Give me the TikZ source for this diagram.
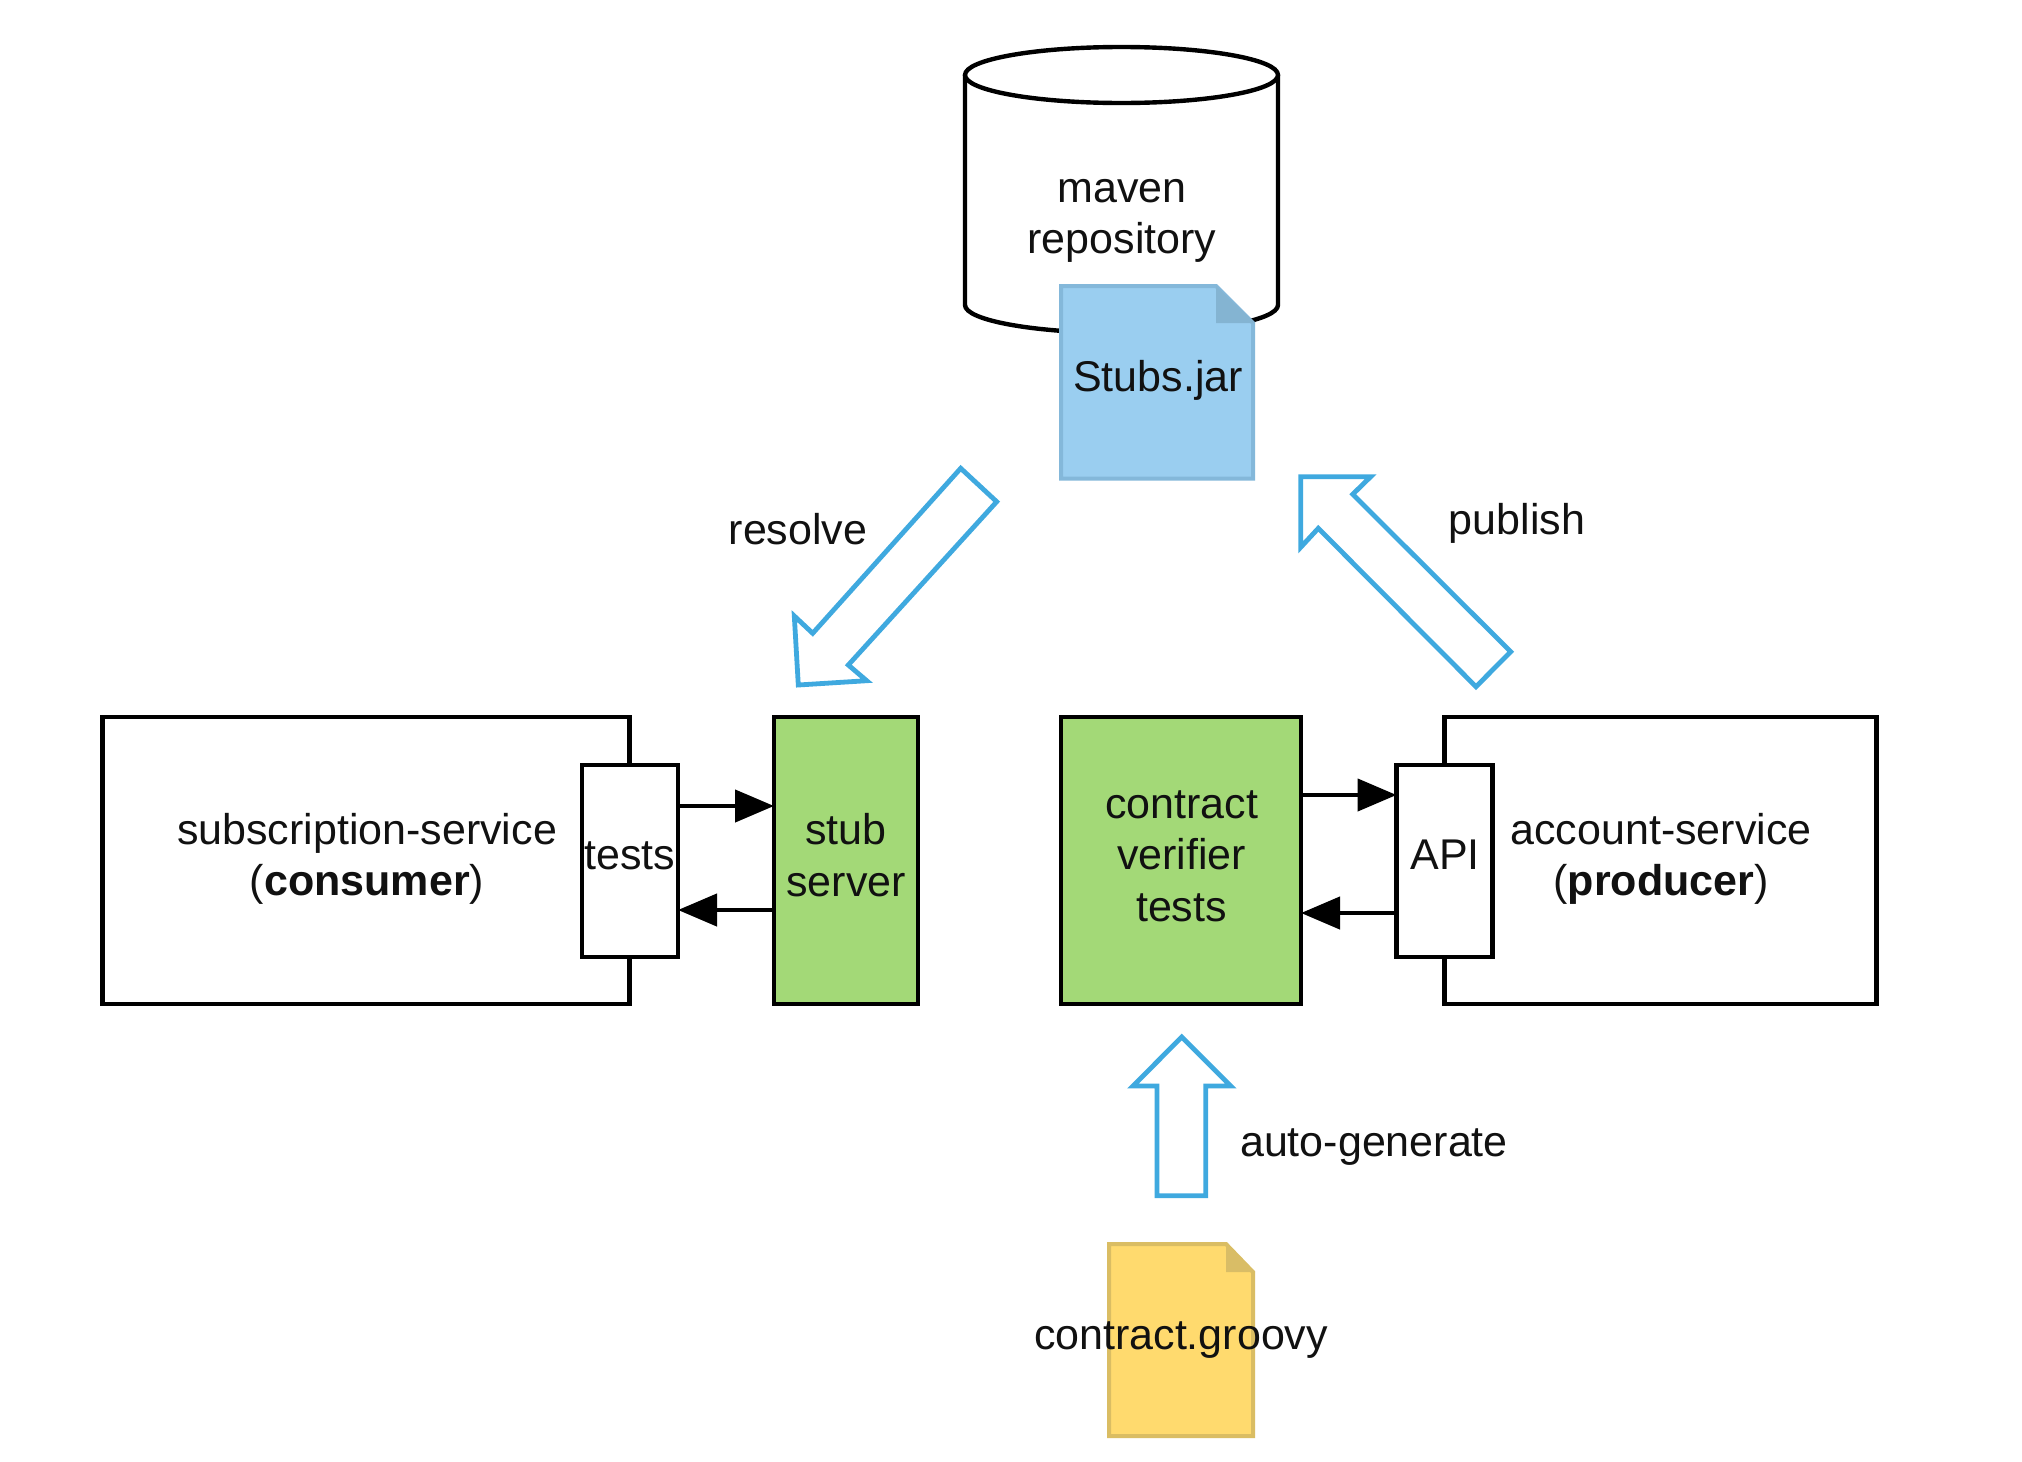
\documentclass[tikz,border=0pt]{standalone}
\usepackage{fontspec}
\setmainfont{Liberation Sans}
\usetikzlibrary{arrows.meta}
\definecolor{ink}{HTML}{111111}
\definecolor{bluearrow}{HTML}{3FA9DF}
\definecolor{greenbox}{HTML}{A3D977}
\definecolor{stubfill}{HTML}{9ACEF0}
\definecolor{stubline}{HTML}{84B8DA}
\definecolor{stubfold}{HTML}{84B4D2}
\definecolor{yelfill}{HTML}{FFDA6E}
\definecolor{yelline}{HTML}{DABD63}
\definecolor{yelfold}{HTML}{D9BD66}
\tikzset{
  box/.style={draw=black,line width=4.4pt,fill=white,inner sep=0pt,outer sep=0pt,line join=miter},
  greenb/.style={box,fill=greenbox},
  lbl/.style={font=\fontsize{43}{51.6}\selectfont,text=ink,align=center,inner sep=0pt,outer sep=0pt},
  baselbl/.style={lbl,anchor=base},
  hollow/.style={draw=bluearrow,line width=4.8pt,fill=white,line join=miter,miter limit=10},
  flow/.style={draw=black,line width=4.4pt,-{Triangle[length=39pt,width=32pt]}},
}
\begin{document}
\begin{tikzpicture}[x=1pt,y=-1pt]
\useasboundingbox (0,0) rectangle (2022,1462);
\fill[white] (0,0) rectangle (2022,1462);

% cylinder
\draw[line width=4.4pt,fill=white,line join=round] (965,75) -- (965,305)
  arc[start angle=180,end angle=0,x radius=156.5,y radius=28] -- (1278,75);
\draw[line width=4.4pt,fill=white] (1121.5,75) ellipse[x radius=156.5,y radius=28];
\node[lbl] (repo) at (1122,221) {maven\\repository};

% Stubs.jar document
\draw[draw=stubline,fill=stubfill,line width=4pt,line join=miter]
  (1061,286) -- (1216,286) -- (1253,323) -- (1253,478.5) -- (1061,478.5) -- cycle;
\fill[stubfold] (1216,286) -- (1255,323) -- (1216,323) -- cycle;
\node[baselbl] (stubs) at (1158,391) {Stubs.jar};

% hollow arrows
\draw[hollow] (960.7,468.3) -- (996.7,501.7) -- (848.3,665) -- (866.7,680.7) -- (798.3,685) -- (794.3,616) -- (812.7,633.3) -- cycle;
\draw[hollow] (1300.7,476.7) -- (1370.7,476.7) -- (1352.7,494.3) -- (1510.7,651.7) -- (1476,686.7) -- (1318.3,528.3) -- (1300.7,547.3) -- cycle;
\draw[hollow] (1181.7,1037) -- (1230.7,1086) -- (1205.7,1086) -- (1205.7,1195.7) -- (1157,1195.7) -- (1157,1086) -- (1133,1086) -- cycle;
\node[baselbl] (resolve) at (798,544.5) {resolve};
\node[baselbl] (publish) at (1517,534.5) {publish};
\node[baselbl] (autogen) at (1374,1156.5) {auto-generate};

% left group
\node[box,minimum width=527pt,minimum height=287pt] (consumer) at (366,860.5) {};
\node[box,minimum width=96pt,minimum height=192pt] (tests) at (630,861) {};
\node[greenb,minimum width=144pt,minimum height=287pt] (stubsrv) at (846,860.5) {};
\node[lbl] (consumertxt) at (367,859) {subscription-service\\(\textbf{consumer})};
\node[baselbl] (teststxt) at (630,869.5) {tests};
\node[lbl] (stubsrvtxt) at (846,855) {stub\\server};

% right group
\node[box,minimum width=432pt,minimum height=287pt] (producer) at (1660.5,860.5) {};
\node[box,minimum width=96pt,minimum height=192pt] (api) at (1444.5,861) {};
\node[greenb,minimum width=240pt,minimum height=287pt] (verifier) at (1181,860.5) {};
\node[lbl] (verifiertxt) at (1181.5,856) {contract\\verifier\\tests};
\node[baselbl] (apitxt) at (1445,869) {API};
\node[lbl] (producertxt) at (1661,859) {account-service\\(\textbf{producer})};

% connectors
\draw[flow] (tests.east |- 0,806) -- (stubsrv.west |- 0,806);
\draw[flow] (stubsrv.west |- 0,910) -- (tests.east |- 0,910);
\draw[flow] (verifier.east |- 0,795) -- (api.west |- 0,795);
\draw[flow] (api.west |- 0,913) -- (verifier.east |- 0,913);

% contract.groovy document
\draw[draw=yelline,fill=yelfill,line width=4pt,line join=miter]
  (1109,1244) -- (1226,1244) -- (1253,1272) -- (1253,1436) -- (1109,1436) -- cycle;
\fill[yelfold] (1226,1244) -- (1255,1272) -- (1226,1272) -- cycle;
\node[baselbl] (groovy) at (1181,1349) {contract.groovy};
\end{tikzpicture}
\end{document}
